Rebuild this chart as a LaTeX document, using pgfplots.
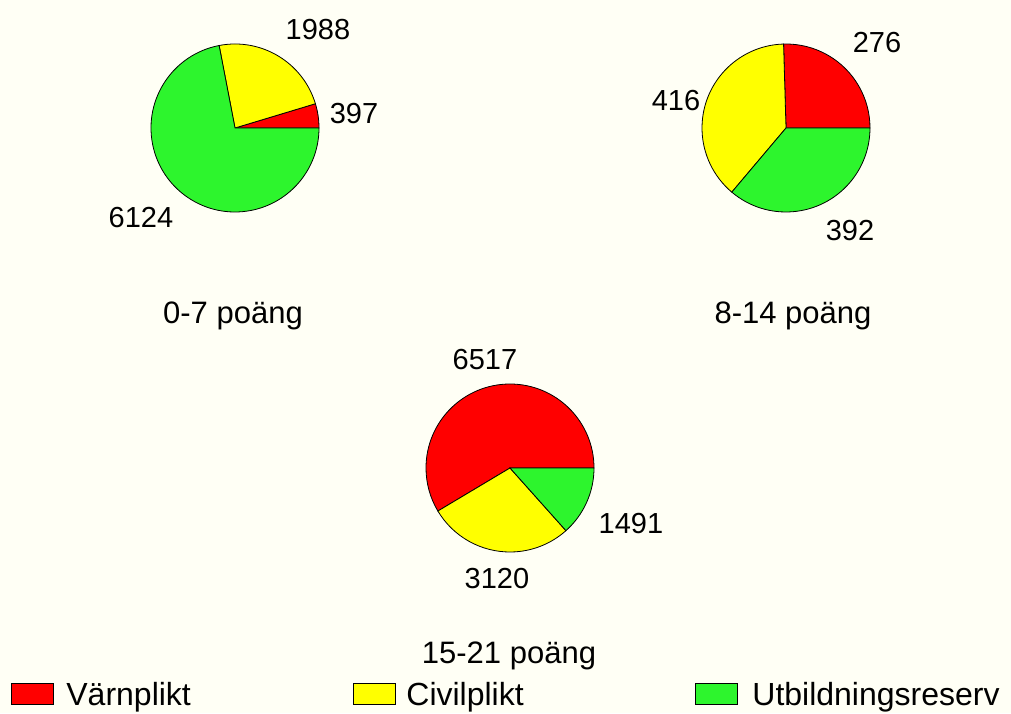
\documentclass[border=0pt]{standalone}
\usepackage{pgfplots}
\pgfplotsset{compat=1.18}
\usepackage{pgfplotstable}
\usepackage{fontspec}
\setmainfont{Liberation Sans}

\definecolor{bg}{RGB}{255,255,245}
\definecolor{vred}{RGB}{255,0,0}
\definecolor{vyellow}{RGB}{255,255,0}
\definecolor{vgreen}{RGB}{45,245,45}

% one table per pie: value, label position (picture pixels, y downwards)
\pgfplotstableread{
value lx ly
397  354 114
1988 318 30
6124 141 218
}\lowpts
\pgfplotstableread{
value lx ly
276 877 43
416 676 101
392 850 231
}\midpts
\pgfplotstableread{
value lx ly
6517 485 360
3120 497 579
1491 631 524
}\highpts

\newcommand{\rad}{84bp}
\newcommand{\drawpie}[3]{% table, centre x, centre y (pixels)
  \pgfplotstablegetelem{0}{value}\of#1\let\vA\pgfplotsretval
  \pgfplotstablegetelem{1}{value}\of#1\let\vB\pgfplotsretval
  \pgfplotstablegetelem{2}{value}\of#1\let\vC\pgfplotsretval
  \pgfmathsetmacro\tot{\vA+\vB+\vC}
  \pgfmathsetmacro\angA{360*(\vA/\tot)}
  \pgfmathsetmacro\angB{\angA+360*(\vB/\tot)}
  \pgfmathsetmacro\cy{713-#3}
  \filldraw[fill=vred] (axis cs:#2,\cy) -- ++(0:\rad)
    arc[start angle=0,end angle=\angA,radius=\rad] -- cycle;
  \filldraw[fill=vyellow] (axis cs:#2,\cy) -- ++(\angA:\rad)
    arc[start angle=\angA,end angle=\angB,radius=\rad] -- cycle;
  \filldraw[fill=vgreen] (axis cs:#2,\cy) -- ++(\angB:\rad)
    arc[start angle=\angB,end angle=360,radius=\rad] -- cycle;
  \foreach \r in {0,1,2}{
    \pgfplotstablegetelem{\r}{value}\of#1\let\v\pgfplotsretval
    \pgfplotstablegetelem{\r}{lx}\of#1\let\lx\pgfplotsretval
    \pgfplotstablegetelem{\r}{ly}\of#1\pgfmathsetmacro\ly{713-\pgfplotsretval}
    \node[font=\fontsize{29bp}{31bp}\selectfont,inner sep=0pt]
      at (axis cs:\lx,\ly) {\v};
  }
}

\begin{document}
\begin{tikzpicture}
\begin{axis}[
  width=1011bp, height=713bp, scale only axis,
  xmin=0, xmax=1011, ymin=0, ymax=713,
  hide axis, clip=false,
]
\fill[bg] (axis cs:0,0) rectangle (axis cs:1011,713);

\pgfplotsextra{
  \tikzset{every path/.append style={line width=0.8bp}}
  \drawpie{\lowpts}{235}{128}
  \drawpie{\midpts}{786}{128}
  \drawpie{\highpts}{510}{468}
}

% pie titles
\begin{scope}[font=\fontsize{31bp}{33bp}\selectfont]
\node[anchor=base,inner sep=0pt] at (axis cs:233,389) {0-7 poäng};
\node[anchor=base,inner sep=0pt] at (axis cs:793,389) {8-14 poäng};
\node[anchor=base,inner sep=0pt] at (axis cs:509,50) {15-21 poäng};
\end{scope}

% legend
\begin{scope}[font=\fontsize{32bp}{34bp}\selectfont]
\filldraw[fill=vred,line width=0.8bp] (axis cs:11,9) rectangle (axis cs:53,30);
\node[anchor=base west,inner sep=0pt] at (axis cs:66,8) {Värnplikt};
\filldraw[fill=vyellow,line width=0.8bp] (axis cs:353,9) rectangle (axis cs:395,30);
\node[anchor=base west,inner sep=0pt] at (axis cs:406,8) {Civilplikt};
\filldraw[fill=vgreen,line width=0.8bp] (axis cs:695,9) rectangle (axis cs:737,30);
\node[anchor=base west,inner sep=0pt] at (axis cs:752,8) {Utbildningsreserv};
\end{scope}
\end{axis}
\end{tikzpicture}
\end{document}
